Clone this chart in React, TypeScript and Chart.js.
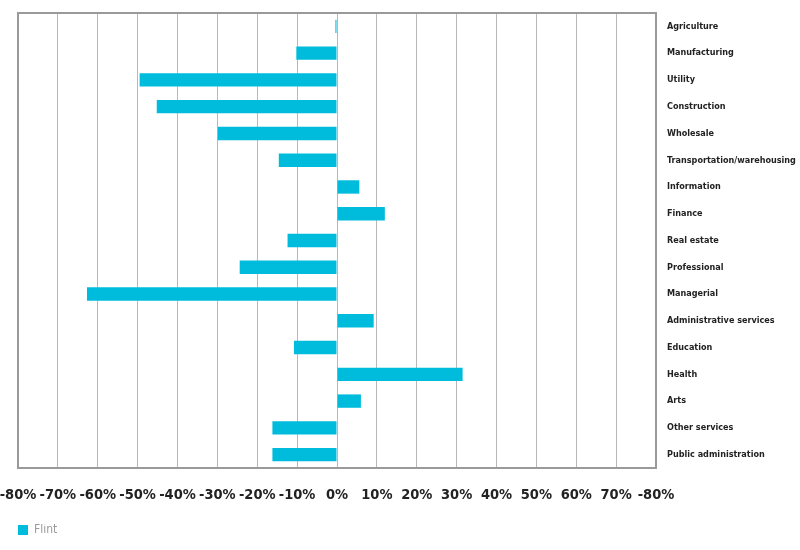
import React, { useEffect, useRef } from "react";
import { Chart, registerables } from "chart.js";

Chart.register(...registerables);

const categories = [
  "Agriculture",
  "Manufacturing",
  "Utility",
  "Construction",
  "Wholesale",
  "Transportation/warehousing",
  "Information",
  "Finance",
  "Real estate",
  "Professional",
  "Managerial",
  "Administrative services",
  "Education",
  "Health",
  "Arts",
  "Other services",
  "Public administration",
];

const flintValues = [
  -0.4, -10.2, -49.5, -45.2, -29.9, -14.6, 5.6, 12.0, -12.4, -24.4, -62.7, 9.2,
  -10.8, 31.5, 6.0, -16.2, -16.2,
];

const xTickLabels = [
  "-80%", "-70%", "-60%", "-50%", "-40%", "-30%", "-20%", "-10%", "0%",
  "10%", "20%", "30%", "40%", "50%", "60%", "70%", "-80%",
];

const seriesName = "Flint";
const FONT = "'DejaVu Sans Condensed', 'DejaVu Sans', sans-serif";

const frame = {
  id: "frame",
  afterDraw(chart: any) {
    const { ctx, chartArea } = chart;
    ctx.save();
    ctx.strokeStyle = "#9a9a9a";
    ctx.lineWidth = 2;
    ctx.strokeRect(
      chartArea.left,
      chartArea.top,
      chartArea.right - chartArea.left,
      chartArea.bottom - chartArea.top
    );
    ctx.restore();
  },
};

export default function App() {
  const ref = useRef<HTMLCanvasElement | null>(null);
  useEffect(() => {
    if (!ref.current) return;
    const chart = new Chart(ref.current, {
      type: "bar",
      data: {
        labels: categories,
        datasets: [
          {
            label: seriesName,
            data: flintValues,
            backgroundColor: "#00bcdc",
            borderWidth: 0,
            barPercentage: 0.5,
            categoryPercentage: 1,
          },
        ],
      },
      options: {
        indexAxis: "y",
        animation: false,
        responsive: false,
        layout: { padding: { top: 13, left: 18, right: 0, bottom: 4 } },
        plugins: {
          tooltip: { enabled: false },
          legend: {
            position: "bottom",
            align: "start",
            labels: {
              boxWidth: 10,
              boxHeight: 10,
              padding: 0,
              color: "#9a9a9a",
              font: { family: FONT, size: 12 },
            },
          },
        },
        scales: {
          x: {
            min: -80,
            max: 80,
            ticks: {
              stepSize: 10,
              padding: 19,
              color: "#222",
              font: { family: FONT, size: 14.5, weight: "bold" },
              callback: (_v: any, i: number) => xTickLabels[i],
              maxRotation: 0,
              autoSkip: false,
            },
            grid: { color: "#b8b8b8", lineWidth: 1, drawTicks: false },
            border: { display: false },
            afterFit: (s: any) => {
              s.height = 56;
              s.paddingLeft = 0;
              s.paddingRight = 0;
            },
          },
          y: {
            position: "right",
            ticks: {
              padding: 11,
              color: "#222",
              font: { family: FONT, size: 9, weight: "bold" },
              autoSkip: false,
            },
            grid: { display: false, drawTicks: false },
            border: { display: false },
            afterFit: (s: any) => {
              s.width = 144;
              s.paddingTop = 0;
              s.paddingBottom = 0;
            },
          },
        },
      },
      plugins: [frame],
    } as any);
    return () => chart.destroy();
  }, []);
  return (
    <div style={{ position: "absolute", left: 0, top: 0, width: 800, height: 550, background: "#fff" }}>
      <canvas ref={ref} width={800} height={550} style={{ display: "block" }} />
    </div>
  );
}
